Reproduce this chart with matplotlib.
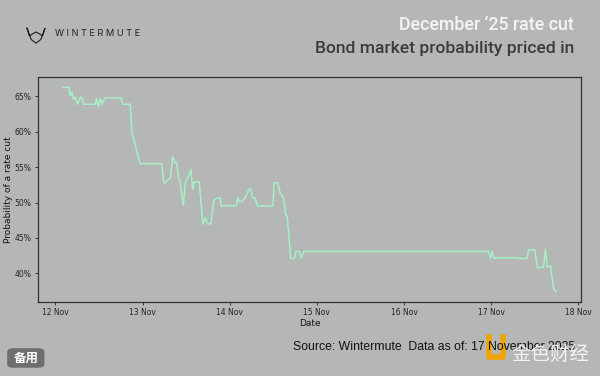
import pandas as pd
import matplotlib
matplotlib.use("Agg")
import matplotlib.pyplot as plt
import matplotlib.dates as mdates
from matplotlib.ticker import FuncFormatter, MultipleLocator
from matplotlib.patches import FancyBboxPatch
from matplotlib.lines import Line2D

# hours since 12 Nov 2025 00:00 and priced-in probability (%)
hours = [2.0, 3.7, 4.1, 4.6, 5.0, 5.5, 6.1, 6.9, 7.2, 7.8, 11.0, 11.3, 11.8, 12.4, 12.8,
         13.7, 18.0, 18.6, 20.6, 21.1, 21.6, 22.9, 23.4, 29.3, 29.8, 30.2, 30.7, 31.7,
         32.3, 33.0, 33.4, 34.0, 34.3, 35.2, 35.8, 36.7, 37.3, 37.8, 38.2, 39.6, 40.6,
         41.3, 41.8, 42.8, 43.6, 43.9, 45.4, 45.6, 48.0, 49.8, 50.2, 50.6, 51.4, 52.3,
         53.3, 53.8, 54.2, 55.0, 55.7, 59.9, 60.2, 61.2, 61.9, 62.4, 62.9, 63.4, 63.8,
         64.8, 65.8, 66.2, 67.2, 67.7, 68.4, 119.3, 119.8, 120.2, 120.8, 121.9, 126.1,
         127.9, 129.8, 130.3, 132.0, 132.7, 134.4, 134.9, 135.4, 136.3, 137.0, 137.3, 137.9]
prob = [66.3, 66.3, 65.1, 65.6, 64.6, 64.9, 63.9, 64.9, 64.9, 63.9, 63.9, 64.7, 63.6, 64.7, 63.9,
        64.8, 64.8, 63.9, 63.9, 59.7, 59.0, 56.2, 55.5, 55.5, 52.9, 52.7, 53.1, 53.5,
        56.5, 55.6, 55.6, 53.2, 53.1, 49.6, 52.9, 53.8, 54.7, 51.9, 52.9, 52.9, 47.0,
        47.9, 47.0, 47.0, 50.3, 50.5, 50.7, 49.5, 49.6, 49.5, 50.7, 50.1, 50.2, 50.7,
        51.9, 52.0, 50.7, 50.6, 49.5, 49.5, 52.8, 52.8, 51.3, 51.0, 50.3, 48.3, 48.1,
        42.1, 42.1, 43.1, 43.1, 42.1, 43.1, 43.1, 42.1, 43.1, 42.1, 42.2, 42.2,
        42.1, 42.1, 43.3, 43.3, 40.8, 40.9, 43.4, 40.9, 41.0, 38.5, 37.6, 37.4]

dates = pd.Timestamp("2025-11-12") + pd.to_timedelta(hours, unit="h")

bg = "#b4b7b5"
plt.rcParams['font.family'] = ['DejaVu Sans']

fig = plt.figure(figsize=(6, 3.76), dpi=100, facecolor=bg)
ax = fig.add_axes([0.0633, 0.197, 0.905, 0.598], facecolor=bg)

ax.plot(dates, prob, color="#a6f0c6", linewidth=1.1)

ax.xaxis.set_major_locator(mdates.DayLocator())
ax.xaxis.set_major_formatter(mdates.DateFormatter("%d %b"))
ax.yaxis.set_major_locator(MultipleLocator(5))
ax.yaxis.set_major_formatter(FuncFormatter(lambda v, p: f"{v:.0f}%"))
ax.tick_params(labelsize=5.5, colors="#222222", length=2.5, width=0.6, pad=2)
for s in ax.spines.values():
    s.set_color("#333333")
    s.set_linewidth(0.9)
ax.set_xlabel("Date", fontsize=6.5, color="#111111", labelpad=1)
ax.set_ylabel("Probability of a rate cut", fontsize=6.5, color="#111111", labelpad=1)

# header
head = ['Roboto', 'DejaVu Sans']
fig.text(0.957, 0.933, "December \u201825 rate cut", ha="right", va="center",
         fontsize=12.8, color="#f4f4f4", fontweight="medium", family=head)
fig.text(0.957, 0.870, "Bond market probability priced in", ha="right", va="center",
         fontsize=12.6, color="#3a3d3c", fontweight="medium", family=head)

# logo
fig.text(0.092, 0.912, "W I N T E R M U T E", ha="left", va="center",
         fontsize=6.6, color="#1e1e1e", family=['Inter', 'DejaVu Sans'])
icon_x = [0.045, 0.052, 0.060, 0.068, 0.075, 0.071, 0.060, 0.049, 0.045]
icon_y = [0.925, 0.895, 0.885, 0.895, 0.925, 0.905, 0.915, 0.905, 0.925]
fig.add_artist(Line2D(icon_x, icon_y, color="#1e1e1e", linewidth=0.8, transform=fig.transFigure))

# footer
fig.text(0.958, 0.077, "Source: Wintermute  Data as of: 17 November 2025", ha="right",
         va="center", fontsize=8.8, color="#111111", family=['Liberation Sans', 'DejaVu Sans'])

badge = FancyBboxPatch((0.012, 0.022), 0.062, 0.052, boxstyle="round,pad=0,rounding_size=0.01",
                       transform=fig.transFigure, facecolor="#6d6f6e", edgecolor="none")
fig.add_artist(badge)
fig.text(0.043, 0.048, "备用", ha="center", va="center", fontsize=9, color="white",
         fontweight="bold", family=['Noto Sans CJK SC', 'DejaVu Sans'])

# watermark
mark_x = [0.815, 0.815, 0.838, 0.838]
mark_y = [0.105, 0.050, 0.050, 0.105]
fig.add_artist(Line2D(mark_x, mark_y, color="#f0a400", linewidth=4, transform=fig.transFigure))
fig.text(0.918, 0.058, "金色财经", ha="center", va="center", fontsize=14, color="white",
         alpha=0.85, family=['Noto Sans CJK SC', 'DejaVu Sans'])

fig.savefig("out.png", dpi=100, facecolor=bg)
